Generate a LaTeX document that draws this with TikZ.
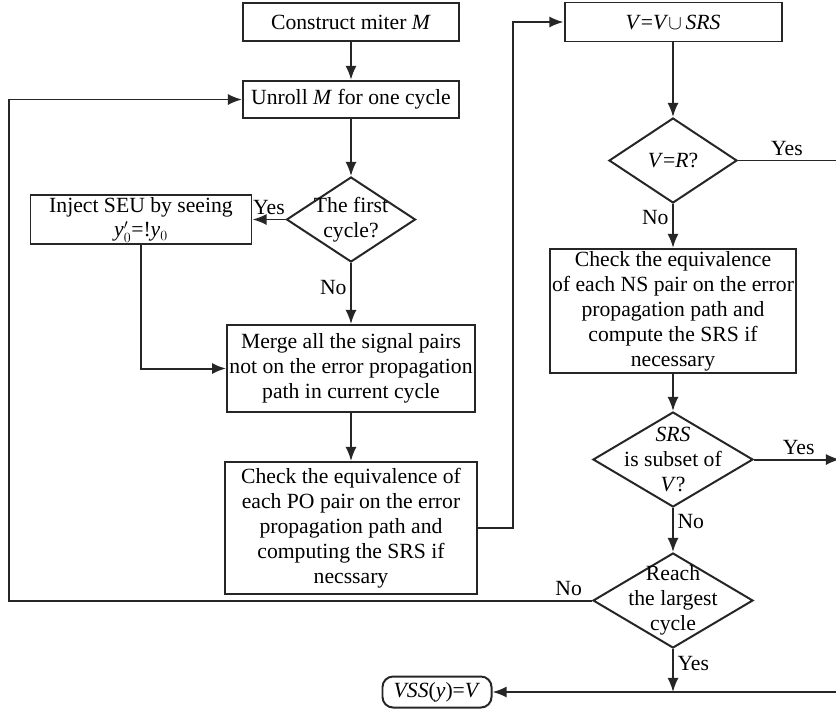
\documentclass[tikz,border=0pt]{standalone}
\usepackage{fontspec}
\setmainfont{Liberation Serif}
\usetikzlibrary{arrows,arrows.meta,positioning,shapes.geometric}

\begin{document}
\begin{tikzpicture}[
    auto,
    node distance=2cm,
    >={Latex[length=12pt,width=9.5pt]},
    font=\fontsize{18.5}{21.3}\selectfont,
    line width=1.7pt,
    block/.style={
		rectangle,
		draw=black!85,
		text centered,
		align=center,
		inner sep=2pt,
		fill=white
	},
	decision/.style={
		diamond,
		draw=black!85,
		inner sep=0pt,
		fill=white
	},
	terminal/.style={
		rectangle,
		rounded corners=9pt,
		draw=black!85,
		text centered,
		minimum width=3.27cm,
		minimum height=0.93cm
	},
	tag/.style={
		inner sep=3pt
	},
	flow/.style={
		draw=black!85,
		->
	}
  ]
  \useasboundingbox (0,0) rectangle (25.08,-21.27);
    % left column

  \node [block, minimum width=6.48cm, minimum height=1.14cm] (construct) at (10.53,-0.66)
 {Construct miter \textit{M}};

  \node [block, below of=construct, node distance=2.325cm,
         minimum width=6.48cm, minimum height=1.12cm] (unroll)
 {Unroll \textit{M} for one cycle};

  \node [decision, below of=unroll, node distance=3.6cm,
         minimum width=3.87cm, minimum height=2.55cm,
         label={[align=center]center:The first\\cycle?}] (first) {};

  \node [block, left of=first, node distance=6.3cm,
         minimum width=6.63cm, minimum height=1.35cm] (inject)
 {Inject SEU by seeing\\\textit{y}$'_0$=!\textit{y}$_0$};

  \node [block, below of=first, node distance=4.47cm,
         minimum width=7.26cm, minimum height=2.61cm] (merge)
 {Merge all the signal pairs\\not on the error propagation\\path in current cycle};

  \node [block, below of=merge, node distance=4.785cm,
         minimum width=7.56cm, minimum height=3.96cm] (checkpo)
 {Check the equivalence of\\each PO pair on the error\\propagation path and\\computing the SRS if\\necssary};

    % right column

  \node [block, minimum width=6.51cm, minimum height=1.17cm] (vunion) at (20.19,-0.66)
 {\textit{V}=\textit{V}$\cup$\,\textit{SRS}};

  \node [decision, below of=vunion, node distance=4.155cm,
         minimum width=3.84cm, minimum height=2.55cm,
         label={center:\textit{V}=\textit{R}?}] (vr) {};

  \node [block, below of=vr, node distance=4.515cm,
         minimum width=7.2cm, minimum height=3.42cm] (checkns)
 {Check the equivalence\\of each NS pair on the error\\propagation path and\\compute the SRS if\\necessary};

  \node [decision, below of=checkns, node distance=4.455cm,
         minimum width=4.8cm, minimum height=2.85cm,
         label={[align=center]center:\textit{SRS}\\is subset of\\\textit{V}?}] (srs) {};

  \node [decision, below of=srs, node distance=4.23cm,
         minimum width=4.8cm, minimum height=2.85cm,
         label={[align=center]center:Reach\\the largest\\cycle}] (reach) {};

  \node [terminal, below of=reach, node distance=2.745cm, xshift=-7.08cm] (vss)
 {\textit{VSS}(\textit{y})=\textit{V}};

  \coordinate (rim) at (25.2,0);
  \coordinate (lft) at (0.27,0);
  \coordinate (join) at (reach |- vss);

 \draw [flow] (construct) -- (unroll);
 \draw [flow] (unroll) -- (first);
 \draw [flow] (first.west) -- node [tag, above] {Yes} (inject.east);
 \draw [flow] (first.south) -- node [tag, left, pos=0.4] {No} (merge.north);
 \draw [flow] (inject.south) |- (merge.west);
 \draw [flow] (merge) -- (checkpo);
 \draw [flow] (checkpo.east) -- ++(1.05,0) |- (vunion.west);
 \draw [flow] (vunion) -- (vr);
 \draw [draw=black!85] (vr.east) -- node [tag, above, pos=0.48] {Yes} (vr -| rim);
 \draw [flow] (vr.south) -- node [tag, left, pos=0.31] {No} (checkns.north);
 \draw [flow] (checkns) -- (srs);
 \draw [flow] (srs.east) -- node [tag, above, pos=0.52] {Yes} (srs -| rim);
 \draw [flow] (srs.south) -- node [tag, right, pos=0.3] {No} (reach.north);
 \draw [flow] (reach.west) -- node [tag, above, pos=0.04] {No} (reach -| lft) |- (unroll.west);
 \draw [flow] (reach.south) -- node [tag, right, pos=0.34] {Yes} (join);
 \draw [flow] (vss -| rim) -- (vss.east);

\end{tikzpicture}
\end{document}
